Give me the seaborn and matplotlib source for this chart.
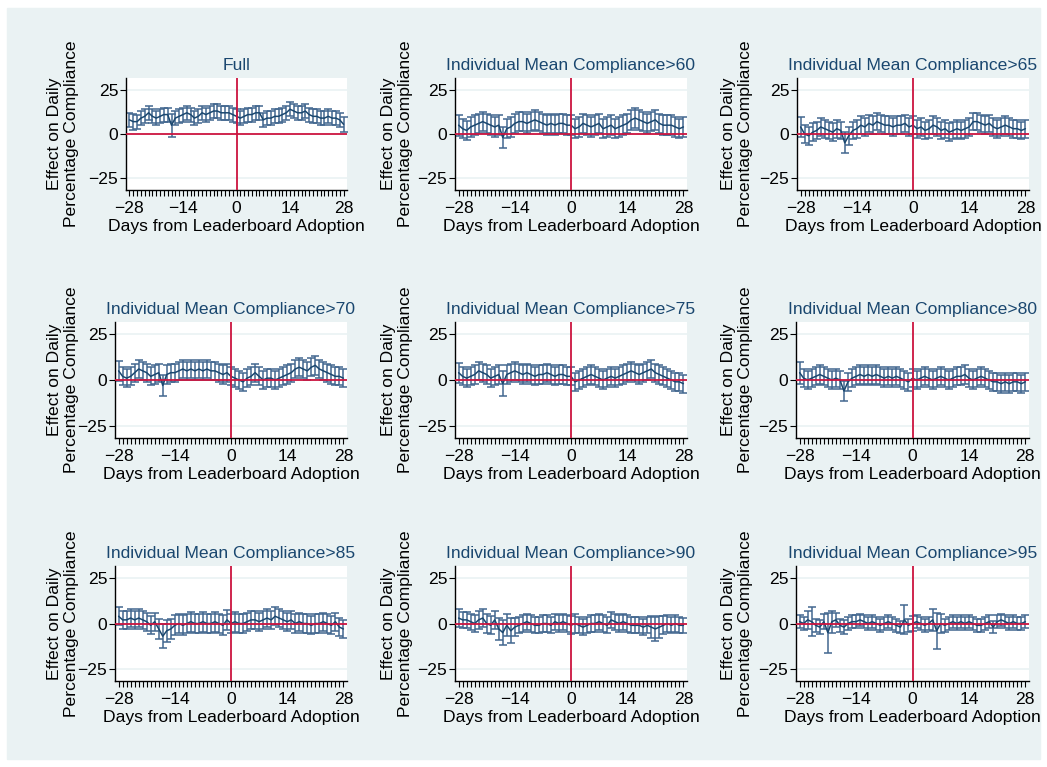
import pandas as pd
import seaborn as sns
import matplotlib.pyplot as plt
import matplotlib.transforms as mtransforms
from matplotlib.patches import Rectangle
from matplotlib.ticker import FixedLocator

days = list(range(-28, 29))

titles = ['Full',
          'Individual Mean Compliance>60', 'Individual Mean Compliance>65',
          'Individual Mean Compliance>70', 'Individual Mean Compliance>75',
          'Individual Mean Compliance>80', 'Individual Mean Compliance>85',
          'Individual Mean Compliance>90', 'Individual Mean Compliance>95']

# point estimates, days -28..28
est_full = [8, 7, 7, 9, 10, 12, 10, 9, 10, 11, 11, 5, 9, 10, 11, 12, 11, 9, 10, 12,
            11, 12, 13, 13, 12, 12, 12, 11, 10, 9, 10, 11, 11, 12, 12, 8, 9, 9, 10, 10,
            11, 12, 14, 13, 12, 12, 13, 11, 10, 10, 9, 9, 10, 9, 9, 8, 5.5]
est_60 = [5, 3, 2, 4, 5, 6, 7, 6, 5, 4, 5, -2, 3, 4, 6, 7, 7, 6, 7, 8,
          7, 6, 5, 6, 5, 6, 6, 5, 5, 3, 4, 6, 5, 4, 5, 6, 3, 4, 5, 3,
          4, 5, 6, 8, 9, 8, 7, 6, 7, 8, 6, 5, 5, 5, 4, 3, 4]
est_65 = [4, 0, -1, 1, 2, 4, 3, 2, 1, 3, 2, -5, -1, 2, 3, 5, 4, 6, 5, 7,
          6, 5, 5, 4, 5, 5, 6, 4, 5, 3, 4, 2, 3, 5, 4, 2, 3, 1, 2, 3,
          2, 3, 4, 7, 7, 6, 5, 6, 4, 3, 4, 5, 4, 3, 3, 2, 3]
est_70 = [5, 2, 1, 2, 4, 6, 5, 4, 2, 3, 4, -3, 3, 4, 4, 5, 6, 5, 6, 5,
          6, 5, 6, 5, 5, 4, 3, 4, 2, 1, 0, -1, 1, 2, 4, 2, 0, 1, 1, 0,
          1, 2, 3, 4, 6, 7, 6, 5, 7, 8, 6, 5, 4, 3, 2, 2, 1]
est_75 = [4, 2, 1, 2, 3, 5, 4, 3, 1, 2, 3, -2, 3, 4, 5, 4, 3, 4, 3, 2,
          3, 3, 4, 3, 2, 3, 3, 2, 2, -1, 0, 1, 2, 3, 2, 1, 0, 1, 2, 1,
          2, 3, 4, 5, 4, 3, 4, 5, 6, 4, 3, 2, 1, 0, -1, -1, -2]
est_80 = [4, 1, 0, 1, 2, 3, 2, 1, 0, 1, 0, -6, -1, 1, 2, 3, 2, 3, 2, 3,
          2, 1, 2, 1, 2, 1, 0, -1, 1, 0, 1, 2, 1, 0, 1, 2, 1, 0, 1, 2,
          2, 3, 1, 0, 1, 2, 1, 0, -1, -1, -2, -1, -2, -1, -1, -2, -1]
est_85 = [4, 2, 2, 3, 2, 3, 2, 1, -1, 1, -3, -7, -4, -3, -1, 0, -1, 0, 1, 0,
          0, 1, 0, 0, 1, 0, -1, 2, 0, 1, 0, 0, 1, 2, 2, 1, 2, 3, 2, 4,
          3, 2, 1, 2, 0, 1, 0, 0, -1, 0, 0, 1, 0, -1, 1, -2, -3]
est_90 = [3, 2, 2, 1, 0, 2, 3, 0, -1, 2, -3, -5, -1, -4, -2, -1, 0, 1, 0, -1,
          -1, 0, 0, -1, 1, 0, 1, 0, -1, 0, -1, -2, -1, 0, 0, 1, 0, -1, 2, 1,
          0, 1, 0, -1, -1, -1, -2, -1, -2, -3, -2, -1, 0, -1, 0, -1, -1]
est_95 = [1, 0, 2, 1, -1, -2, 1, -5, 1, 2, -1, -2, 0, 1, 1, 2, 1, 0, 1, 0,
          -1, 0, 1, 0, -1, -2, 2, -1, 0, 1, 0, -1, 0, 2, -4, 0, -1, 0, 1, 0,
          1, 0, 1, 0, -1, -1, 0, 1, -2, 1, 2, 1, 0, 1, 0, 0, 1]

# confidence interval half-widths
ci_full = [4, 4.5, 4, 4, 4, 4, 4, 4, 4, 4, 4, 6.5, 4, 4, 4, 4, 4, 4, 4, 4,
           4, 4, 4, 4, 4, 4, 4, 4, 4, 4, 4, 4, 4, 4, 4, 4, 4, 4, 4, 4,
           4, 4, 4, 4, 4, 4, 4, 4, 4, 4, 4, 4, 4, 4, 4, 4, 4.2]
ci_60 = [6, 5.5, 5.5, 5.5, 5.5, 5.5, 5.5, 5.5, 5.5, 5.5, 5.5, 6, 5.5, 5.5, 5.5, 5.5, 5.5, 5.5, 5.5, 5.5,
         5.5, 5.5, 5.5, 5.5, 5.5, 5.5, 5.5, 5.5, 5.5, 5.5, 5.5, 5.5, 5.5, 5.5, 5.5, 5.5, 5.5, 5.5, 5.5, 5.5,
         5.5, 5.5, 5.5, 5.5, 5.5, 5.5, 5.5, 5.5, 5.5, 5.5, 5.5, 5.5, 5.5, 5.5, 5.5, 5.5, 5.5]
ci_65 = [5.5, 5, 5, 5, 5, 5, 5, 5, 5, 5, 5, 6, 5, 5, 5, 5, 5, 5, 5, 5,
         5, 5, 5, 5, 5, 5, 5, 5, 5, 5, 5, 5, 5, 5, 5, 5, 5, 5, 5, 5,
         5, 5, 5, 5, 5, 5, 5, 5, 5, 5, 5, 5, 5, 5, 5, 5, 5]
ci_70 = [5.5, 5, 5, 5, 5, 5, 5, 5, 5, 5, 5, 6, 5, 5, 5, 5, 5, 5, 5, 5,
         5, 5, 5, 5, 5, 5, 5, 5, 5, 5, 5, 5, 5, 5, 5, 5, 5, 5, 5, 5,
         5, 5, 5, 5, 5, 5, 5, 5, 5, 5, 5, 5, 5, 5, 5, 5, 5]
ci_75 = [5.5, 5, 5, 5, 5, 5, 5, 5, 5, 5, 5, 7, 5, 5, 5, 5, 5, 5, 5, 5,
         5, 5, 5, 5, 5, 5, 5, 5, 5, 5, 5, 5, 5, 5, 5, 5, 5, 5, 5, 5,
         5, 5, 5, 5, 5, 5, 5, 5, 5, 5, 5, 5, 5, 5, 5, 5, 5]
ci_80 = [6, 5, 5, 5, 5, 5, 5, 5, 5, 5, 5, 5.5, 5, 5, 5, 5, 5, 5, 5, 5,
         5, 5, 5, 5, 5, 5, 5, 5, 5, 5, 5, 5, 5, 5, 5, 5, 5, 5, 5, 5,
         5, 5, 5, 5, 5, 5, 5, 5, 5, 5, 5, 5, 5, 5, 5, 5, 5]
ci_85 = [5, 5, 5, 5, 5, 5, 5, 5, 5, 5, 5.5, 6.5, 6, 5.5, 5.5, 5.5, 5.5, 5.5, 5.5, 5.5,
         5.5, 5.5, 5.5, 5.5, 5.5, 5.5, 5.5, 5.5, 5.5, 5.5, 5, 5, 5, 5, 5, 5, 5, 5, 5, 5,
         5, 5, 5, 5, 5, 5, 5, 5, 5, 5, 5, 5, 5, 5, 5, 5, 5]
ci_90 = [5, 4.5, 4.5, 4.5, 4.5, 5, 5, 5, 5, 5, 6, 7, 6, 7, 5, 4.5, 4.5, 4.5, 4.5, 4.5,
         4.5, 4.5, 4.5, 4.5, 4.5, 4.5, 4.5, 4.5, 5, 5, 4.5, 4.5, 4.5, 4.5, 4.5, 4.5, 4.5, 4.5, 4.5, 4.5,
         4.5, 4.5, 4.5, 4.5, 4.5, 4.5, 4.5, 4.5, 6, 6.5, 6, 5, 4.5, 4.5, 4.5, 4.5, 4]
ci_95 = [3.5, 3.5, 5, 8, 3.5, 4, 4, 11, 6, 4, 3.5, 4, 3.5, 3.5, 3.5, 3.5, 3.5, 3.5, 3.5, 3.5,
         3.5, 3.5, 3.5, 3.5, 3.5, 3.5, 8, 3.5, 4, 3.5, 3.5, 3.5, 3.5, 6, 10, 5, 3.5, 3.5, 3.5, 3.5,
         3.5, 3.5, 3.5, 3.5, 3.5, 3.5, 3.5, 3.5, 3.5, 3.5, 3.5, 3.5, 3.5, 3.5, 3.5, 3.5, 3.5]

estimates = [est_full, est_60, est_65, est_70, est_75, est_80, est_85, est_90, est_95]
halfwidths = [ci_full, ci_60, ci_65, ci_70, ci_75, ci_80, ci_85, ci_90, ci_95]

navy = '#1a476f'
bar_col = '#42678f'
red = '#cc143f'
bg = '#eaf2f3'

sns.set_theme(style='white')
plt.rcParams['font.family'] = ['Liberation Sans', 'DejaVu Sans']

W, H = 1047, 767
fig = plt.figure(figsize=(W / 100, H / 100), dpi=100)
fig.patch.set_facecolor('white')
# light blue graph region behind all panels
fig.add_artist(Rectangle((7 / W, 8 / H), 1033 / W, 751 / H,
                         transform=fig.transFigure, color=bg, zorder=-10))

# plot boxes in pixels: left, top, right, bottom
rows_y = [(78, 190), (322, 438), (566, 681)]
cols_x = [[(126, 347), (455, 687), (797, 1029)],
          [(115, 347), (455, 687), (796, 1029)],
          [(115, 347), (455, 687), (796, 1029)]]
ylab_right = [79, 413, 753]
fs = 12.6

for i in range(9):
    r, c = divmod(i, 3)
    l, rr = cols_x[r][c]
    t, b = rows_y[r]
    ax = fig.add_axes([l / W, 1 - b / H, (rr - l) / W, (b - t) / H])
    ax.set_facecolor('white')

    df = pd.DataFrame({'day': days, 'est': estimates[i], 'hw': halfwidths[i]})

    for g in (-25, 25):
        ax.axhline(g, color=bg, lw=1.2, zorder=0)

    eb = ax.errorbar(df['day'], df['est'], yerr=df['hw'], fmt='none',
                     ecolor=bar_col, elinewidth=1.1, capsize=2.6, capthick=1.1, zorder=2)
    for cap in eb[1]:
        cap.set_color(navy)
    sns.lineplot(data=df, x='day', y='est', ax=ax, color=navy, lw=1.1, zorder=3)

    ax.axhline(0, color=red, lw=1.3, zorder=4)
    ax.axvline(0, color=red, lw=1.3, zorder=4)

    ax.set_xlim(-28.9, 28.9)
    ax.set_ylim(-31.7, 31.7)
    ax.set_xticks([-28, -14, 0, 14, 28])
    ax.xaxis.set_minor_locator(FixedLocator(days))
    ax.set_yticks([-25, 0, 25])
    ax.tick_params(which='both', direction='out', length=4, width=0.8, color='black',
                   bottom=True, left=True, labelsize=fs, labelcolor='black')
    ax.tick_params(axis='x', pad=4)
    ax.tick_params(axis='y', pad=1.5)
    sns.despine(ax=ax)
    for s in ('left', 'bottom'):
        ax.spines[s].set_color('black')
        ax.spines[s].set_linewidth(1.0)

    ax.set_title(titles[i], color=navy, fontsize=fs, pad=5.5)
    ax.set_xlabel('Days from Leaderboard Adoption', fontsize=fs, labelpad=2, color='black')
    ax.set_ylabel('Effect on Daily\nPercentage Compliance', fontsize=fs,
                  linespacing=1.15, color='black')
    trans = mtransforms.blended_transform_factory(fig.transFigure, ax.transAxes)
    ax.yaxis.set_label_coords(ylab_right[c] / W, 0.5, transform=trans)

fig.savefig('out.png', dpi=100)
